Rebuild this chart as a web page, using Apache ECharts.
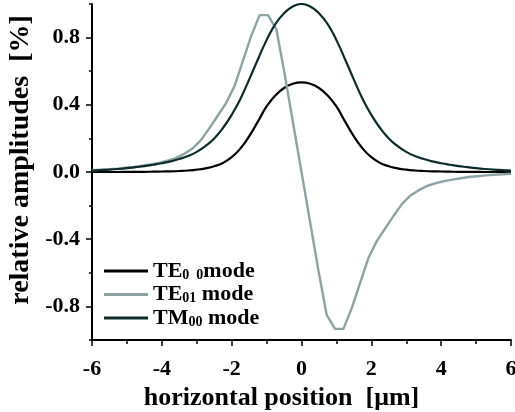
<!DOCTYPE html>
<html>
<head>
<meta charset="utf-8">
<script src="https://cdn.jsdelivr.net/npm/echarts@6/dist/echarts.min.js"></script>
<style>html,body{margin:0;padding:0;background:#fff;}#c{width:515px;height:412px;}</style>
</head>
<body>
<div id="c"></div>
<script>
// horizontal positions (µm) for the smooth curves
var xSmooth = [-6,-5.75,-5.5,-5.25,-5,-4.75,-4.5,-4.25,-4,-3.75,-3.5,-3.25,-3,-2.75,-2.5,-2.25,-2,-1.75,-1.5,-1.25,-1,-0.75,-0.5,-0.25,0,0.25,0.5,0.75,1,1.25,1.5,1.75,2,2.25,2.5,2.75,3,3.25,3.5,3.75,4,4.25,4.5,4.75,5,5.25,5.5,5.75,6];
var te00 = [0,0,0,0,0.001,0.001,0.001,0.002,0.003,0.004,0.006,0.009,0.014,0.022,0.034,0.054,0.088,0.14,0.212,0.30,0.39,0.455,0.50,0.525,0.533,0.525,0.50,0.455,0.39,0.30,0.212,0.14,0.088,0.054,0.034,0.022,0.014,0.009,0.006,0.004,0.003,0.002,0.001,0.001,0.001,0,0,0,0];
var tm00 = [0.008,0.011,0.014,0.018,0.023,0.029,0.035,0.043,0.052,0.063,0.077,0.095,0.12,0.155,0.20,0.262,0.34,0.435,0.55,0.67,0.785,0.88,0.945,0.985,1.0,0.985,0.945,0.88,0.785,0.67,0.55,0.435,0.34,0.262,0.20,0.155,0.12,0.095,0.077,0.063,0.052,0.043,0.035,0.029,0.023,0.018,0.014,0.011,0.008];
// horizontal positions (µm) for the TE01 curve
var xTE01 = [-6,-5.76,-5.52,-5.28,-5.04,-4.8,-4.56,-4.32,-4.08,-3.84,-3.6,-3.36,-3.12,-2.88,-2.64,-2.4,-2.16,-1.92,-1.68,-1.44,-1.2,-0.96,-0.72,-0.48,-0.24,0,0.24,0.48,0.72,0.96,1.2,1.44,1.68,1.92,2.16,2.4,2.64,2.88,3.12,3.36,3.6,3.84,4.08,4.32,4.56,4.8,5.04,5.28,5.52,5.76,6];
var te01 = [0.01,0.013,0.016,0.02,0.025,0.03,0.037,0.045,0.054,0.067,0.083,0.108,0.14,0.19,0.26,0.335,0.41,0.51,0.66,0.81,0.934,0.934,0.85,0.58,0.29,0,-0.29,-0.58,-0.85,-0.934,-0.934,-0.81,-0.66,-0.51,-0.41,-0.335,-0.26,-0.19,-0.14,-0.108,-0.083,-0.067,-0.054,-0.045,-0.037,-0.03,-0.025,-0.02,-0.016,-0.013,-0.01];
// tick labels
var xTickLabels = [-6,-4,-2,0,2,4,6];
var yTickLabels = [-0.8,-0.4,0,0.4,0.8];
var seriesNames = ['TE00','TE01','TM00'];

function pairs(xs, ys){ return xs.map(function(x,i){ return [x, ys[i]]; }); }

var FONT = 'Liberation Serif';
var chart = echarts.init(document.getElementById('c'), null, {renderer:'canvas'});
var legendRich = {
  a: {fontFamily: FONT, fontWeight: 'bold', fontSize: 22, color: '#000', lineHeight: 22, verticalAlign: 'bottom'},
  s: {fontFamily: FONT, fontWeight: 'bold', fontSize: 14, color: '#000', lineHeight: 4, verticalAlign: 'bottom'}
};
var legendText = {
  'TE00': '{a|TE}{s|0  0}{a|mode}',
  'TE01': '{a|TE}{s|01}{a| mode}',
  'TM00': '{a|TM}{s|00}{a| mode}'
};
chart.setOption({
  animation: false,
  backgroundColor: '#fff',
  grid: {left: 92, right: 4, top: 4, bottom: 72, containLabel: false, outerBoundsMode: 'none'},
  legend: {
    orient: 'vertical', left: 104, top: 260, padding: 0,
    icon: 'rect', itemWidth: 44, itemHeight: 3, itemGap: 1.5,
    selectedMode: false,
    data: seriesNames,
    formatter: function(n){ return legendText[n]; },
    textStyle: {rich: legendRich, fontFamily: FONT, fontWeight: 'bold', fontSize: 22}
  },
  xAxis: {
    type: 'value', min: -6, max: 6, interval: 2,
    name: 'horizontal position  [\u03bcm]', nameLocation: 'middle', nameGap: 38,
    nameTextStyle: {fontFamily: FONT, fontWeight: 'bold', fontSize: 26, color: '#000', padding: [0, 40, 0, 0]},
    axisLine: {onZero: false, lineStyle: {color: '#000', width: 2}},
    axisTick: {length: 6, lineStyle: {color: '#000', width: 1.5}},
    minorTick: {show: true, splitNumber: 2, length: 4, lineStyle: {color: '#000', width: 1.5}},
    axisLabel: {customValues: xTickLabels, margin: 18, fontFamily: FONT, fontWeight: 'bold', fontSize: 22, color: '#000',
      formatter: function(v){ return String(v); }},
    splitLine: {show: false}
  },
  yAxis: [{
    type: 'value', min: -1, max: 1, interval: 0.2, position: 'left',
    name: 'relative amplitudes  [%]', nameLocation: 'middle', nameGap: 51,
    nameTextStyle: {fontFamily: FONT, fontWeight: 'bold', fontSize: 28, color: '#000', padding: [0, 0, 0, 24]},
    axisLine: {onZero: false, lineStyle: {color: '#000', width: 2}},
    axisTick: {customValues: yTickLabels, length: 6, lineStyle: {color: '#000', width: 1.5}},
    axisLabel: {customValues: yTickLabels, margin: 12, fontFamily: FONT, fontWeight: 'bold', fontSize: 22, color: '#000',
      formatter: function(v){ return v.toFixed(1); }},
    splitLine: {show: false}
  }, {
    type: 'value', min: -1, max: 1, interval: 0.2, position: 'left', offset: 0,
    axisLine: {show: false, onZero: false},
    axisTick: {show: true, length: 3, lineStyle: {color: '#000', width: 1.5}},
    axisLabel: {show: false},
    splitLine: {show: false}
  }],
  series: [
    {name: 'TE00', type: 'line', data: pairs(xSmooth, te00), smooth: 0.5, symbol: 'none',
      lineStyle: {color: '#000', width: 2.2}, itemStyle: {color: '#000'}},
    {name: 'TE01', type: 'line', data: pairs(xTE01, te01), smooth: false, symbol: 'none',
      lineStyle: {color: '#8ea3a3', width: 2.4}, itemStyle: {color: '#8ea3a3'}},
    {name: 'TM00', type: 'line', data: pairs(xSmooth, tm00), smooth: 0.5, symbol: 'none',
      lineStyle: {color: '#0e2b2b', width: 2.2}, itemStyle: {color: '#0e2b2b'}}
  ]
});
</script>
</body>
</html>
